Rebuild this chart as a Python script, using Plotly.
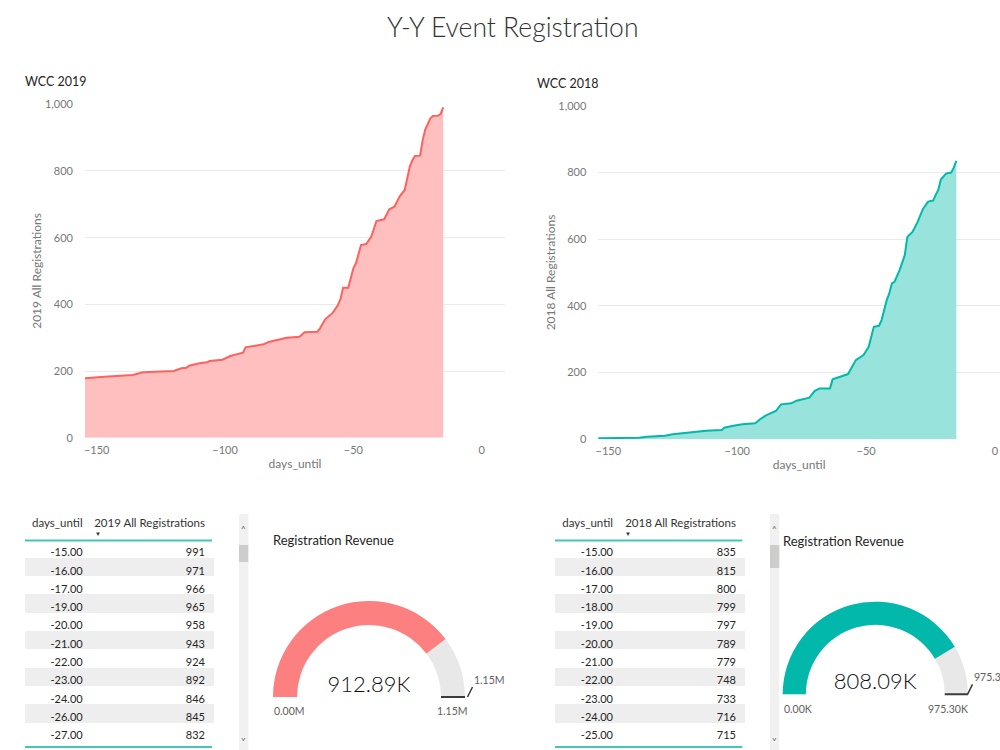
import plotly.graph_objects as go

# ---------------- data ----------------
days_2019 = [-155, -150, -147, -136, -132, -120, -119, -117, -115, -114,
             -110, -107, -106, -101, -98, -93, -92, -85, -83, -79,
             -76, -71, -69, -64, -63, -61, -58, -56, -55, -54,
             -52, -50, -49, -47, -45, -43, -41, -38, -36, -34,
             -32, -30, -28, -27, -26, -24, -23, -22, -21, -20,
             -19, -17, -16, -15]
regs_2019 = [178, 180, 183, 188, 196, 200, 203, 208, 210, 216,
             223, 226, 230, 234, 245, 255, 271, 280, 287, 295,
             300, 303, 316, 318, 328, 355, 375, 398, 416, 450,
             450, 508, 523, 578, 581, 603, 650, 655, 685, 693,
             723, 743, 813, 832, 845, 846, 892, 924, 943, 958,
             965, 966, 971, 991]

days_2018 = [-155, -138, -135, -128, -125, -121, -119, -114, -112, -106,
             -105, -102, -98, -93, -91, -89, -85, -83, -79, -77,
             -72, -70, -68, -64, -63, -57, -54, -51, -49, -47,
             -45, -44, -42, -41, -40, -39, -37, -35, -34, -32,
             -30, -28, -27, -26, -25, -24, -23, -22, -21, -20,
             -19, -18, -17, -16, -15]
regs_2018 = [2, 4, 7, 10, 14, 17, 20, 22, 25, 27,
             34, 39, 44, 47, 60, 70, 84, 104, 107, 115,
             124, 144, 152, 152, 179, 195, 237, 252, 277, 337,
             340, 357, 417, 437, 467, 472, 507, 552, 607, 622,
             652, 690, 700, 712, 715, 716, 733, 748, 779, 789,
             797, 799, 800, 815, 835]

revenue_2019_k = 912.89
target_2019_k = 1150.0
revenue_2018_k = 808.09
target_2018_k = 975.30
gauge_2019_labels = ["0.00M", "1.15M"]
gauge_2018_labels = ["0.00K", "975.30K"]

x_tick_vals = [-150, -100, -50, 0]
y_tick_vals = [0, 200, 400, 600, 800, 1000]
table_rows = 11

# ---------------- style ----------------
FONT = "Lato, 'Segoe UI', sans-serif"
RED_LINE, RED_FILL, RED_GAUGE = "#FD625E", "#FEBFBE", "#FD8080"
TEAL_LINE, TEAL_FILL, TEAL_GAUGE = "#01B8AA", "#99E3DD", "#01B8AA"
GRAY_TXT = "#777777"
DARK_TXT = "#252423"
TABLE_LINE = "#45C5BB"

W, H = 1000, 750


def px(x):
    return x / W


def py(y):
    return 1 - y / H


fig = go.Figure()

# ---------------- area charts ----------------
fig.add_trace(go.Scatter(x=days_2019, y=regs_2019, mode="lines",
                         line=dict(color=RED_LINE, width=2),
                         fill="tozeroy", fillcolor=RED_FILL,
                         xaxis="x", yaxis="y", showlegend=False))
fig.add_trace(go.Scatter(x=days_2018, y=regs_2018, mode="lines",
                         line=dict(color=TEAL_LINE, width=2),
                         fill="tozeroy", fillcolor=TEAL_FILL,
                         xaxis="x2", yaxis="y2", showlegend=False))


def xaxis_cfg(domain, rng, anchor):
    return dict(domain=domain, range=rng, anchor=anchor, tickvals=x_tick_vals,
                showgrid=False, zeroline=False, showline=False, ticks="",
                ticklabelstandoff=4, automargin=False, fixedrange=True,
                tickfont=dict(family=FONT, size=11, color=GRAY_TXT),
                title=dict(text="days_until", standoff=4,
                           font=dict(family=FONT, size=12, color=GRAY_TXT)))


def yaxis_cfg(domain, anchor, title):
    return dict(domain=domain, range=[0, 1000], anchor=anchor, tickvals=y_tick_vals,
                tickformat=",d", showgrid=True, gridcolor="#EAEAEA", gridwidth=1,
                zeroline=False, showline=False, ticks="", ticklabelstandoff=11,
                automargin=False, fixedrange=True,
                tickfont=dict(family=FONT, size=11, color=GRAY_TXT),
                title=dict(text=title, standoff=0,
                           font=dict(family=FONT, size=12, color=GRAY_TXT)))


# ---------------- tables ----------------
def add_table(days, regs, x0, x1, name):
    d = list(reversed(days))[:table_rows]
    v = list(reversed(regs))[:table_rows]
    fills = ["#FFFFFF" if i % 2 == 0 else "#EEEEEE" for i in range(table_rows)]
    fig.add_trace(go.Table(
        domain=dict(x=[px(x0), px(x1)], y=[0, py(510.5)]),
        columnwidth=[66, 123],
        header=dict(values=["days_until", name.replace(" ", "\u00a0")],
                    align="right", height=29.5,
                    fill_color="#FFFFFF", line=dict(color="#FFFFFF", width=1),
                    font=dict(family=FONT, size=11.5, color="#333333")),
        cells=dict(values=[[f"{x:.2f}" for x in d], [f"{x:d}" for x in v]],
                   align="right", height=18.3,
                   fill_color=[fills, fills], line=dict(color=[fills, fills], width=1),
                   font=dict(family=FONT, size=11, color=DARK_TXT))))


add_table(days_2019, regs_2019, 25, 213.5, "2019 All Registrations")
add_table(days_2018, regs_2018, 555, 744.5, "2018 All Registrations")


# ---------------- gauges ----------------
def add_gauge(value, target, color, x0, x1, ytop, ybot):
    fig.add_trace(go.Indicator(
        mode="gauge+number", value=value,
        number=dict(valueformat=".2f", suffix="K",
                    font=dict(family=FONT, size=22, color="#111111", weight=300)),
        domain=dict(x=[px(x0), px(x1)], y=[py(ybot), py(ytop)]),
        gauge=dict(shape="angular",
                   axis=dict(range=[0, target], visible=False),
                   bar=dict(color=color, thickness=1),
                   bgcolor="#E8E8E8", borderwidth=0,
                   threshold=dict(line=dict(color="#3B3B3B", width=2),
                                  thickness=1, value=target))))


add_gauge(revenue_2019_k, target_2019_k, RED_GAUGE, 273, 465, 601, 697)
add_gauge(revenue_2018_k, target_2018_k, TEAL_GAUGE, 782.7, 967.9, 601.7, 694.3)

# ---------------- layout ----------------
fig.update_layout(
    template="none", width=W, height=H, autosize=False,
    margin=dict(l=0, r=0, t=0, b=0),
    paper_bgcolor="#FFFFFF", plot_bgcolor="#FFFFFF",
    showlegend=False, hovermode=False,
    font=dict(family=FONT, color=DARK_TXT),
    xaxis=xaxis_cfg([px(85), px(505)], [-154.56, 9.08], "y"),
    yaxis=yaxis_cfg([py(437.7), py(104.3)], "x", "2019 All Registrations"),
    xaxis2=xaxis_cfg([px(598.3), 1.0], [-153.88, 1.94], "y2"),
    yaxis2=yaxis_cfg([py(439), py(106)], "x2", "2018 All Registrations"),
)

annotations = []


def text(x, y, s, size, color=DARK_TXT, xanchor="left", weight=None, **kw):
    f = dict(family=FONT, size=size, color=color)
    if weight:
        f["weight"] = weight
    annotations.append(dict(x=px(x), y=py(y), xref="paper", yref="paper", text=s,
                            showarrow=False, xanchor=xanchor, yanchor="middle",
                            font=f, **kw))


text(512, 27, "Y-Y Event Registration", 26.5, "#333333", xanchor="center", weight=300)
text(23, 82, "WCC 2019", 12.5)
text(535, 83, "WCC 2018", 12.5)
text(271, 540, "Registration Revenue", 13)
text(781, 540.5, "Registration Revenue", 13)

# sort indicators
text(97.7, 533, "▼", 6, "#333333", xanchor="center", borderpad=0)
text(628.3, 533, "▼", 6, "#333333", xanchor="center", borderpad=0)

# gauge labels
LBL = "#605E5C"
text(271.5, 711, gauge_2019_labels[0], 10.5, LBL)
text(469.5, 711, gauge_2019_labels[1], 10.5, LBL, xanchor="right")
text(781.5, 709, gauge_2018_labels[0], 10.5, LBL)
text(969.5, 709, gauge_2018_labels[1], 10.5, LBL, xanchor="right")

for tip_x, tip_y, lbl in [(467.5, 697, gauge_2019_labels[1]),
                          (967.5, 694.3, gauge_2018_labels[1])]:
    annotations.append(dict(x=px(tip_x), y=py(tip_y), xref="paper", yref="paper",
                            text=lbl, showarrow=True, arrowhead=0, arrowwidth=1.5,
                            arrowcolor="#3B3B3B", ax=5, ay=-10,
                            xanchor="left", yanchor="bottom", borderpad=0,
                            font=dict(family=FONT, size=10.5, color=LBL)))

# scrollbar chevrons
for sx in (243.7, 774.6):
    text(sx, 528.5, "˄", 10, "#666666", xanchor="center")
    text(sx, 740.5, "˅", 10, "#666666", xanchor="center")

fig.update_layout(annotations=annotations)

shapes = []
for x0, x1 in [(25, 212), (555, 742.3)]:
    for yy in (540.5, 747):
        shapes.append(dict(type="line", xref="paper", yref="paper",
                           x0=px(x0), x1=px(x1), y0=py(yy), y1=py(yy),
                           line=dict(color=TABLE_LINE, width=2)))
for sx0, sx1, th0, th1 in [(239, 248.3, 545, 562), (770, 779.3, 545, 568)]:
    shapes.append(dict(type="rect", xref="paper", yref="paper", layer="below",
                       x0=px(sx0), x1=px(sx1), y0=py(750), y1=py(514),
                       fillcolor="#F1F1F1", line=dict(width=0)))
    shapes.append(dict(type="rect", xref="paper", yref="paper",
                       x0=px(sx0), x1=px(sx1), y0=py(th1), y1=py(th0),
                       fillcolor="#CDCDCD", line=dict(width=0)))
fig.update_layout(shapes=shapes)

fig.write_html("out.html", config={"displayModeBar": False})
